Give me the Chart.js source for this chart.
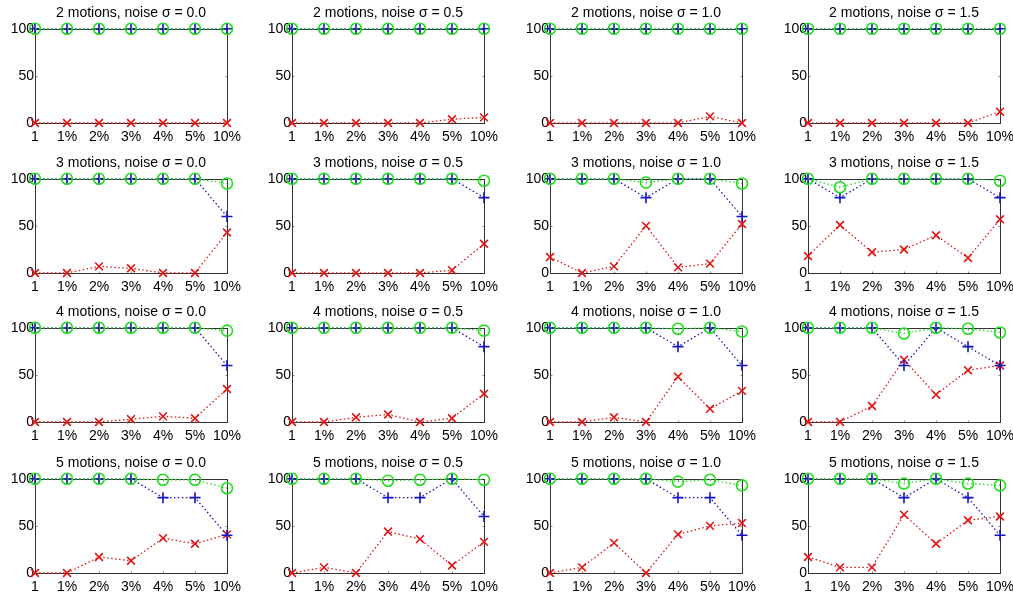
<!DOCTYPE html>
<html>
<head>
<meta charset="utf-8">
<script src="https://cdn.jsdelivr.net/npm/chart.js@4.4.1/dist/chart.umd.min.js"></script>
<style>
  body { margin: 0; background: #fff; }
  #grid { position: relative; width: 1013px; height: 599px; }
  .cell { position: absolute; width: 262px; height: 150px; }
</style>
</head>
<body>
<div id="grid"></div>
<script>
const xLabels = ['1', '1%', '2%', '3%', '4%', '5%', '10%'];
const motions = [2, 3, 4, 5];
const noiseLevels = ['0.0', '0.5', '1.0', '1.5'];

// one inner list per noise level (0.0, 0.5, 1.0, 1.5)
const circle2 = [[100,100,100,100,100,100,100],[100,100,100,100,100,100,100],[100,100,100,100,100,100,100],[100,100,100,100,100,100,100]];
const plus2   = [[100,100,100,100,100,100,100],[100,100,100,100,100,100,100],[100,100,100,100,100,100,100],[100,100,100,100,100,100,100]];
const cross2  = [[0,0,0,0,0,0,0],[0,0,0,0,0,4,6],[0,0,0,0,0,7,0],[0,0,0,0,0,0,12]];

const circle3 = [[100,100,100,100,100,100,95],[100,100,100,100,100,100,98],[100,100,100,96,100,100,95],[100,91,100,100,100,100,98]];
const plus3   = [[100,100,100,100,100,100,60],[100,100,100,100,100,100,80],[100,100,100,80,100,100,60],[100,80,100,100,100,100,80]];
const cross3  = [[0,0,7,5,0,0,43],[0,0,0,0,0,3,31],[17,0,7,50,6,10,52],[18,51,22,25,40,16,57]];

const circle4 = [[100,100,100,100,100,100,97],[100,100,100,100,100,100,97],[100,100,100,100,99,100,96],[100,100,100,94,100,99,95]];
const plus4   = [[100,100,100,100,100,100,60],[100,100,100,100,100,100,80],[100,100,100,100,80,100,60],[100,100,100,60,100,80,60]];
const cross4  = [[0,0,0,3,6,4,35],[0,0,5,8,0,4,30],[0,0,5,0,48,14,33],[0,0,17,66,29,55,60]];

const circle5 = [[100,100,100,100,99,99,90],[100,100,100,98,99,100,99],[100,100,100,100,97,99,93],[100,100,100,95,100,95,93]];
const plus5   = [[100,100,100,100,80,80,40],[100,100,100,80,80,100,60],[100,100,100,100,80,80,40],[100,100,100,80,100,80,40]];
const cross5  = [[0,0,17,13,37,31,41],[0,6,0,44,36,8,33],[0,6,32,0,41,50,53],[17,6,6,62,31,56,60]];

const circleRows = [circle2, circle3, circle4, circle5];
const plusRows = [plus2, plus3, plus4, plus5];
const crossRows = [cross2, cross3, cross4, cross5];

// left edge of each plot box / top edge of each plot box (page pixels)
const colLeft = [35, 292, 550, 808];
const rowTop = [29, 179, 328, 479];

const RED = '#dd1515';
const BLUE = '#1515c0';
const GREEN = '#22dd22';
const FONT = 'Liberation Sans, Arial, sans-serif';

// MATLAB style box around the axes, with small inward ticks
const boxPlugin = {
    id: 'box',
    beforeDatasetsDraw(chart) {
        const a = chart.chartArea;
        const ctx = chart.ctx;
        const x = chart.scales.x;
        const y = chart.scales.y;
        const L = Math.round(a.left) + 0.5, T = Math.round(a.top) + 0.5;
        const R = Math.round(a.right) + 0.5, B = Math.round(a.bottom) + 0.5;
        ctx.save();
        ctx.strokeStyle = '#888';
        ctx.lineWidth = 1;
        ctx.beginPath();
        y.ticks.forEach(t => {
            const py = Math.round(y.getPixelForValue(t.value)) + 0.5;
            ctx.moveTo(L, py); ctx.lineTo(L + 2, py);
            ctx.moveTo(R, py); ctx.lineTo(R - 2, py);
        });
        xLabels.forEach((lab, i) => {
            const px = Math.round(x.getPixelForValue(i)) + 0.5;
            ctx.moveTo(px, B); ctx.lineTo(px, B - 2);
            ctx.moveTo(px, T); ctx.lineTo(px, T + 2);
        });
        ctx.stroke();
        ctx.strokeStyle = '#333';
        ctx.strokeRect(L, T, R - L, B - T);
        ctx.restore();
    }
};

const series = (data, color, style, order) => ({
    data: data,
    borderColor: color,
    borderWidth: 1.3,
    borderDash: [1.5, 2.5],
    pointStyle: style,
    pointRadius: 5.5,
    pointBorderWidth: 1.6,
    pointBorderColor: color,
    pointBackgroundColor: 'rgba(0,0,0,0)',
    fill: false,
    tension: 0,
    clip: false,
    order: order,
});

const grid = document.getElementById('grid');

motions.forEach((m, r) => {
    noiseLevels.forEach((n, c) => {
        const cell = document.createElement('div');
        cell.className = 'cell';
        cell.style.left = (colLeft[c] - 35) + 'px';
        cell.style.top = (rowTop[r] - 29) + 'px';
        const canvas = document.createElement('canvas');
        cell.appendChild(canvas);
        grid.appendChild(cell);

        new Chart(canvas.getContext('2d'), {
            type: 'line',
            data: {
                labels: xLabels,
                datasets: [
                    series(crossRows[r][c], RED, 'crossRot', 3),
                    series(plusRows[r][c], BLUE, 'cross', 2),
                    series(circleRows[r][c], GREEN, 'circle', 1),
                ]
            },
            plugins: [boxPlugin],
            options: {
                responsive: true,
                maintainAspectRatio: false,
                animation: false,
                layout: { padding: 0 },
                plugins: {
                    legend: { display: false },
                    tooltip: { enabled: false },
                    title: {
                        display: true,
                        text: m + ' motions, noise σ = ' + n,
                        color: '#000',
                        font: { family: FONT, size: 14, weight: 'normal' },
                        padding: { top: 5, bottom: 7 },
                    },
                },
                scales: {
                    x: {
                        offset: false,
                        grid: { display: false, drawTicks: false },
                        border: { display: false },
                        ticks: {
                            color: '#000',
                            padding: 6,
                            maxRotation: 0,
                            autoSkip: false,
                            font: { family: FONT, size: 14 },
                        },
                        afterFit: (s) => { s.height = 27; },
                    },
                    y: {
                        min: 0,
                        max: 100,
                        grid: { display: false, drawTicks: false },
                        border: { display: false },
                        ticks: {
                            stepSize: 50,
                            color: '#000',
                            padding: 1,
                            font: { family: FONT, size: 14 },
                        },
                        afterFit: (s) => { s.width = 35; },
                    },
                    yRight: {
                        position: 'right',
                        min: 0,
                        max: 100,
                        grid: { display: false, drawTicks: false },
                        border: { display: false },
                        ticks: { display: false },
                        afterFit: (s) => { s.width = 35; },
                    },
                },
            },
        });
    });
});
</script>
</body>
</html>
